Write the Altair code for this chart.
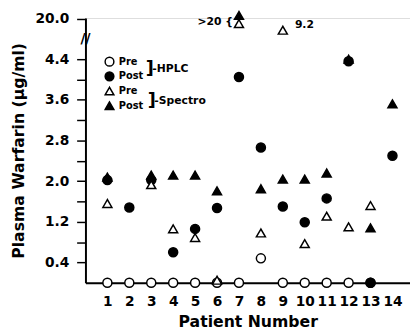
import altair as alt
import pandas as pd

patients = list(range(1, 15))
# plotted positions on the broken axis (5.2 on the scale = "20.0"; >20 and 9.2 drawn above the break)
hplc_pre = [0, 0, 0, 0, 0, 0, 0, 0.48, 0, 0, 0, 0, 0, None]
hplc_post = [2.02, 1.48, 2.02, 0.6, 1.06, 1.47, 4.05, 2.66, 1.5, 1.19, 1.66, 4.36, 0.0, 2.5]
spectro_pre = [1.56, None, 1.93, 1.06, 0.89, 0.05, 5.1, 0.98, 4.97, 0.77, 1.31, 1.1, 1.52, None]
spectro_post = [2.08, None, 2.12, 2.12, 2.12, 1.81, 5.26, 1.85, 2.04, 2.04, 2.16, 4.4, 1.08, 3.52]

series_names = ["HPLC Pre", "HPLC Post", "Spectro Pre", "Spectro Post"]
series_vals = [hplc_pre, hplc_post, spectro_pre, spectro_post]

rows = []
for name, vals in zip(series_names, series_vals):
    for p, v in zip(patients, vals):
        if v is not None:
            rows.append({"patient": p, "value": v, "series": name})
df = pd.DataFrame(rows)

y_ticks = [0.4, 0.8, 1.2, 1.6, 2.0, 2.4, 2.8, 3.2, 3.6, 4.0, 4.4, 5.2]

FONT = "DejaVu Sans"

xscale = alt.Scale(domain=[0, 14.8], nice=False, zero=False)
yscale = alt.Scale(domain=[0, 5.21], nice=False, zero=False)

xaxis = alt.Axis(values=patients, format="d", title="Patient Number", grid=False,
                 ticks=False, labelPadding=12, labelFontSize=14, labelFontWeight="bold",
                 labelOverlap=False, labelFont=FONT, titleFont=FONT, titleFontSize=16,
                 titleFontWeight="bold", titlePadding=6, domainWidth=2, domainColor="black",
                 labelColor="black", titleColor="black")
yaxis = alt.Axis(values=y_ticks, grid=False, title="Plasma Warfarin (µg/ml)",
                 labelExpr="datum.value > 5 ? '20.0' : (round(datum.value*10) % 8 == 4 ? format(datum.value, '.1f') : '')",
                 tickSize=9, tickWidth=1.5, tickColor="black", domainWidth=2, domainColor="black",
                 labelFontSize=14, labelFontWeight="bold", labelFont=FONT, labelPadding=8,
                 labelOverlap=False, labelBound=False, labelFlush=False,
                 titleFont=FONT, titleFontSize=16, titleFontWeight="bold", titlePadding=9,
                 labelColor="black", titleColor="black")

leg = alt.Legend(orient="none", legendX=19, legendY=38, title=None,
                 labelExpr="split(datum.label, ' ')[1]",
                 labelFont=FONT, labelFontSize=10, labelFontWeight="bold", labelColor="black",
                 symbolStrokeWidth=1.5, symbolSize=80,
                 clipHeight=13, rowPadding=2, labelOffset=4)

points = alt.Chart(df).mark_point(filled=True, strokeWidth=1.5, opacity=1).encode(
    x=alt.X("patient:Q", scale=xscale, axis=xaxis),
    y=alt.Y("value:Q", scale=yscale, axis=yaxis),
    fill=alt.Fill("series:N", sort=series_names,
                  scale=alt.Scale(domain=series_names, range=["white", "black", "white", "black"]),
                  legend=leg),
    stroke=alt.Stroke("series:N", sort=series_names,
                      scale=alt.Scale(domain=series_names, range=["black", "black", "black", "black"]),
                      legend=leg),
    shape=alt.Shape("series:N", sort=series_names,
                    scale=alt.Scale(domain=series_names, range=["circle", "circle", "triangle-up", "triangle-up"]),
                    legend=leg),
    size=alt.value(85),
    order=alt.Order("order:Q"),
).transform_calculate(
    order="indexof(['HPLC Pre','HPLC Post','Spectro Pre','Spectro Post'], datum.series)"
)

ann_text = [">20 {", "9.2", "]", "-HPLC", "]", "-Spectro", "//"]
ann_x = [6.72, 9.55, 2.75, 3.05, 2.84, 3.14, 0.0]
ann_y = [5.14, 5.07, 4.2, 4.2, 3.58, 3.58, 4.8]
ann_size = [11, 11, 18, 11, 18, 11, 14]
ann_align = ["right", "left", "left", "left", "left", "left", "center"]
ann_df = pd.DataFrame({"text": ann_text, "x": ann_x, "y": ann_y, "size": ann_size, "align": ann_align})

layers = []
for al in ["left", "right", "center"]:
    sub = ann_df[ann_df["align"] == al]
    if len(sub) == 0:
        continue
    layers.append(
        alt.Chart(sub).mark_text(align=al, baseline="middle", font=FONT, fontWeight="bold", color="black").encode(
            x=alt.X("x:Q", scale=xscale, axis=xaxis),
            y=alt.Y("y:Q", scale=yscale, axis=yaxis),
            text="text:N",
            size=alt.Size("size:Q", scale=None, legend=None),
        )
    )

chart = alt.layer(points, *layers).properties(
    width=331, height=270,
    autosize=alt.AutoSizeParams(type="none"),
    padding={"left": 79, "top": 7, "right": 0, "bottom": 46},
).configure_view(stroke=None).configure(background="white")

chart.save("out.html", embed_options={"renderer": "svg", "actions": False})
